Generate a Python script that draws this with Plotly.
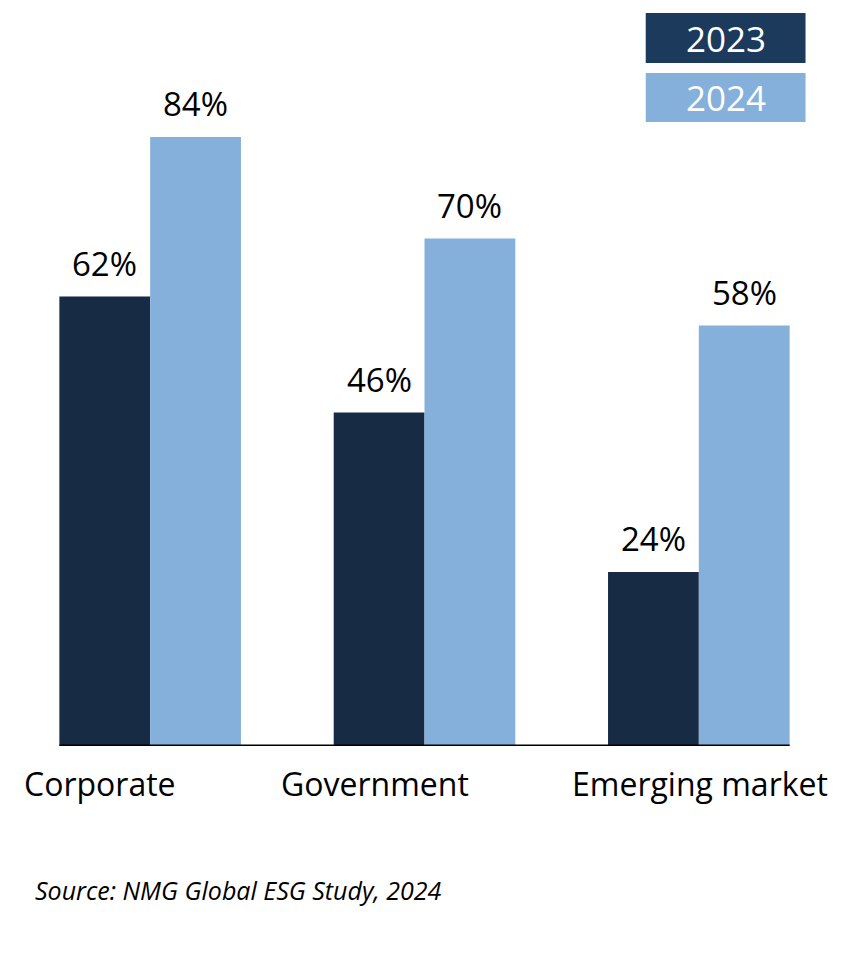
import plotly.graph_objects as go

categories = ["Corporate", "Government", "Emerging market"]
series_names = ["2023", "2024"]
values_2023 = [62, 46, 24]
values_2024 = [84, 70, 58]

dark = "#172B45"
legend_dark = "#1B3A5C"
light = "#85B0DB"
font_family = "Open Sans, Lato, sans-serif"

OFF = 8  # page body margin
W, H = 850 - OFF, 956 - OFF
ml, mr, mt, mb = 12.5 - OFF, 13.5, 21 - OFF, 210
bargap = 0.338
label_xshift = [-50, -50, 1]  # category labels are offset from group centres in the original

fig = go.Figure()
for name, vals, col in [(series_names[0], values_2023, dark), (series_names[1], values_2024, light)]:
    fig.add_trace(go.Bar(x=categories, y=vals, name=name, marker=dict(color=col, line=dict(width=0)),
                         showlegend=False))

# value labels
half = (1 - bargap) / 2
for i, cat in enumerate(categories):
    for j, vals in enumerate([values_2023, values_2024]):
        xpos = i - half / 2 + j * half
        fig.add_annotation(x=xpos, y=vals[i], xref="x", yref="y", text=f"{vals[i]}%",
                           showarrow=False, yanchor="bottom", yshift=9,
                           font=dict(size=33, color="black", family=font_family))
    # category label
    fig.add_annotation(x=cat, y=0, xref="x", yref="y", text=cat, showarrow=False,
                       yanchor="middle", yshift=-37, xshift=label_xshift[i],
                       font=dict(size=32, color="black", family=font_family))

# baseline
fig.add_shape(type="line", xref="x", yref="y", x0=-half, x1=len(categories) - 1 + half, y0=0, y1=0,
              line=dict(color="black", width=3))

# legend boxes (positions given in screen pixels)
pw = W - ml - mr
ph = H - mt - mb
def px(x):
    return (x - OFF - ml) / pw
def py(y):
    return (H - mb - (y - OFF)) / ph
boxes = [(series_names[0], legend_dark, 13, 63), (series_names[1], light, 73, 122)]
for name, col, y0, y1 in boxes:
    fig.add_shape(type="rect", xref="paper", yref="paper", x0=px(646), x1=px(806), y0=py(y1), y1=py(y0),
                  fillcolor=col, line=dict(width=0))
    fig.add_annotation(xref="paper", yref="paper", x=px(726), y=py((y0 + y1) / 2), text=name,
                       showarrow=False, xanchor="center", yanchor="middle",
                       font=dict(size=35, color="white", family=font_family))

fig.add_annotation(xref="paper", yref="paper", x=px(33), y=py(890), text="<i>Source: NMG Global ESG Study, 2024</i>",
                   showarrow=False, xanchor="left", yanchor="middle",
                   font=dict(size=25, color="black", family=font_family))

fig.update_layout(
    width=W, height=H, margin=dict(l=ml, r=mr, t=mt, b=mb),
    barmode="group", bargap=bargap, bargroupgap=0,
    plot_bgcolor="white", paper_bgcolor="white",
    xaxis=dict(showgrid=False, showline=False, zeroline=False, ticks="", showticklabels=False,
               range=[-0.5, 2.5]),
    yaxis=dict(range=[0, 100], visible=False),
)
fig.write_html("out.html")
